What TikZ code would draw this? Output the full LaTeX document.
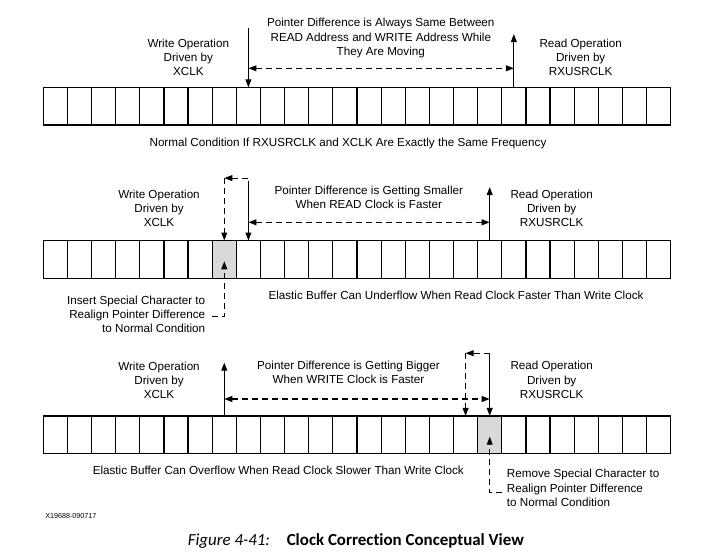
\documentclass[tikz,border=0pt]{standalone}
\usepackage{fontspec}
\setmainfont{Liberation Sans}
\newfontfamily\captionfamily[Ligatures={NoCommon}]{Carlito}
\usetikzlibrary{arrows.meta,calc}
\definecolor{slotgrey}{RGB}{217,217,217}
\begin{document}
\begin{tikzpicture}[x=0.75pt,y=-0.75pt,
  slot/.style={draw, line width=0.9pt, minimum width=18.1pt, minimum height=28.2pt, inner sep=0pt, outer sep=0pt},
  lbl/.style={font=\fontsize{8.75}{10.65}\selectfont, inner sep=0pt, align=center},
  ptr/.style={line width=0.85pt, -{Triangle[length=6pt,width=4.4pt]}},
  gap/.style={line width=0.85pt, dash pattern=on 4.5pt off 3pt, {Triangle[length=6pt,width=4.4pt]}-{Triangle[length=6pt,width=4.4pt]}},
  shifter/.style={line width=0.85pt, dash pattern=on 4.5pt off 3pt, -{Triangle[length=6pt,width=4.4pt]}},
]
\useasboundingbox (0,0) rectangle (703,553);

% three elastic buffers of 26 slots; one slot per row may be shaded
\foreach \r/\y/\g in {1/106.2/-1, 2/259.3/7, 3/434.7/18}
  \foreach \i in {0,...,25}{
    \ifnum\i=\g\relax\def\fc{slotgrey}\else\def\fc{white}\fi
    \node[slot, fill=\fc] (r\r c\i) at ({43.3+24.13*(\i+0.5)}, \y) {};
  }

% ---------- row 1: equal clocks ----------
\coordinate (w1) at ($(r1c8.north)+(0,-59.3)$);
\coordinate (rd1) at ($(r1c19.north)+(0,-53.3)$);
\coordinate (g1) at (0,68.3);
\draw[ptr] (w1) -- (r1c8.north);
\draw[ptr] (r1c19.north) -- (rd1);
\draw[gap] (r1c8.north |- g1) -- (r1c19.north |- g1);

\node[lbl] (d1) at (380.8,38) {Pointer Difference is Always Same Between\\READ Address and WRITE Address While\\They Are Moving};
\node[lbl] (wo1) at (188.3,57.5) {Write Operation\\Driven by\\XCLK};
\node[lbl] (ro1) at (580.7,57.5) {Read Operation\\Driven by\\RXUSRCLK};
\node[lbl, anchor=base] (n1) at (348,146) {Normal Condition If RXUSRCLK and XCLK Are Exactly the Same Frequency};

% ---------- row 2: read clock faster ----------
\coordinate (w2) at ($(r2c8.north)+(0,-60)$);
\coordinate (rd2) at ($(r2c18.north)+(0,-53.4)$);
\coordinate (k2) at ($(r2c7.north)+(0,-62.4)$);
\coordinate (g2) at (0,222.3);
\coordinate (ins) at (0,316.7);
\draw[ptr] (w2) -- (r2c8.north);
\draw[ptr] (r2c18.north) -- (rd2);
\draw[shifter] (w2 |- k2) -- (k2);
\draw[shifter] (k2) -- (r2c7.north);
\draw[gap] (r2c8.north |- g2) -- (r2c18.north |- g2);
\draw[shifter] (r2c7.west |- ins) -- (r2c7.center |- ins) -- ($(r2c7.center)+(0,2)$);

\node[lbl] (d2) at (368.8,197) {Pointer Difference is Getting Smaller\\When READ Clock is Faster};
\node[lbl] (wo2) at (159,208.5) {Write Operation\\Driven by\\XCLK};
\node[lbl] (ro2) at (551.7,208.5) {Read Operation\\Driven by\\RXUSRCLK};
\node[lbl, anchor=base] (n2) at (456,299.2) {Elastic Buffer Can Underflow When Read Clock Faster Than Write Clock};
\node[lbl, align=right, anchor=east] (a2) at (205.5,314.5) {Insert Special Character to\\Realign Pointer Difference\\to Normal Condition};

% ---------- row 3: read clock slower ----------
\coordinate (w3) at ($(r3c7.north)+(0,-53.3)$);
\coordinate (rd3) at ($(r3c18.north)+(0,-62)$);
\coordinate (k3) at ($(r3c17.north)+(0,-62.7)$);
\coordinate (g3) at (0,399);
\coordinate (rem) at (0,492.7);
\draw[ptr] (r3c7.north) -- (w3);
\draw[ptr] (rd3) -- (r3c18.north);
\draw[shifter] (rd3 |- k3) -- (k3);
\draw[shifter] (k3) -- (r3c17.north);
\draw[gap] (r3c7.north |- g3) -- (r3c18.north |- g3);
\draw[shifter] (r3c18.east |- rem) -- (r3c18.center |- rem) -- ($(r3c18.center)+(0,2)$);

\node[lbl] (d3) at (348.5,372) {Pointer Difference is Getting Bigger\\When WRITE Clock is Faster};
\node[lbl] (wo3) at (159,380.5) {Write Operation\\Driven by\\XCLK};
\node[lbl] (ro3) at (551.7,380) {Read Operation\\Driven by\\RXUSRCLK};
\node[lbl, anchor=base] (n3) at (278.3,474.2) {Elastic Buffer Can Overflow When Read Clock Slower Than Write Clock};
\node[lbl, align=left, anchor=west] (a3) at (506.7,488) {Remove Special Character to\\Realign Pointer Difference\\to Normal Condition};

% ---------- figure id and caption ----------
\node[anchor=base west, inner sep=0pt, font=\fontsize{5.4}{6}\selectfont] (fid) at (45,518) {X19688-090717};
\node[anchor=base west, inner sep=0pt, font=\captionfamily\fontsize{12.7}{14}\selectfont\itshape] (fig) at (187.5,545.7) {Figure 4-41:};
\node[anchor=base west, inner sep=0pt, font=\captionfamily\fontsize{12.7}{14}\selectfont\bfseries] (cap) at (286.5,545.7) {Clock Correction Conceptual View};
\end{tikzpicture}
\end{document}
